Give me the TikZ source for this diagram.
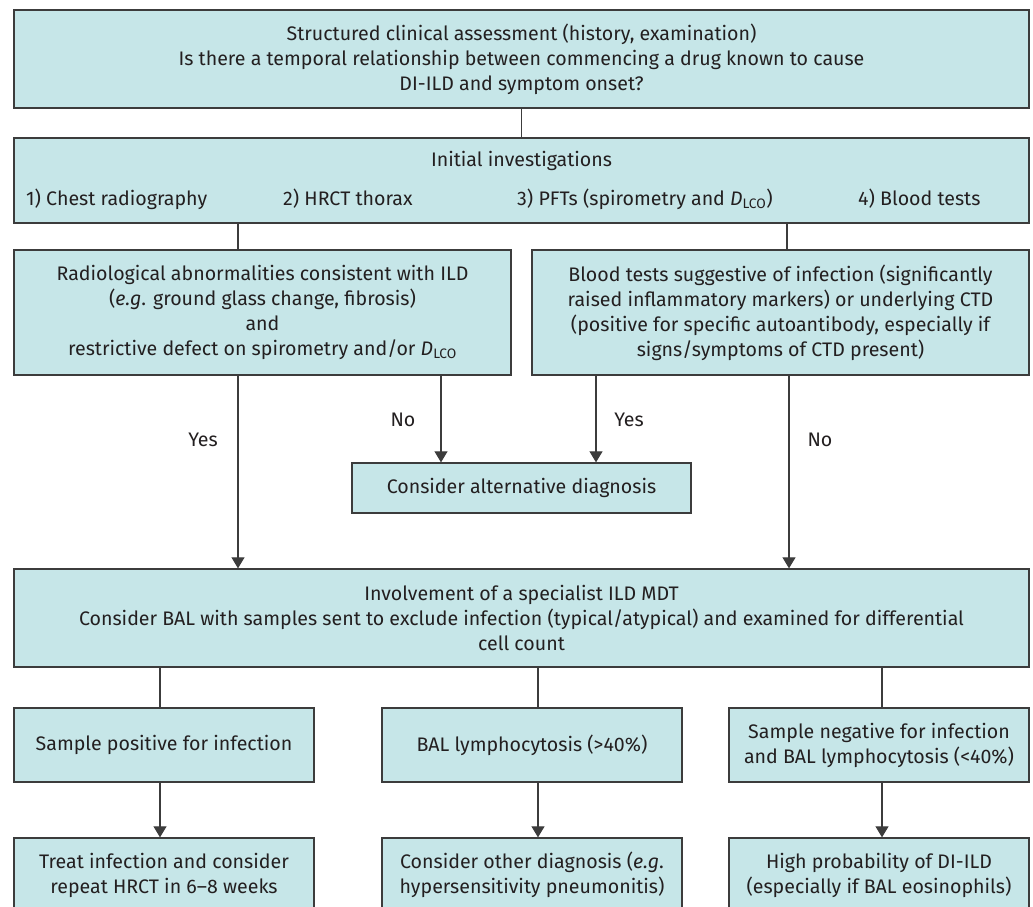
\documentclass[tikz,border=0pt]{standalone}
\usepackage{fontspec}
\setmainfont{Fira Sans}
\usepackage{xcolor}
\usetikzlibrary{positioning}
\usetikzlibrary{arrows.meta}
\definecolor{boxfill}{HTML}{C6E6E8}
\definecolor{boxline}{HTML}{3C3C3C}
\definecolor{ink}{HTML}{231F20}

\begin{document}
\begin{tikzpicture}[x=1pt, y=-1pt, font=\fontsize{19.6}{25}\selectfont, text=ink,
		box/.style={draw=boxline, fill=boxfill, line width=1.3pt, align=center, inner sep=0pt},
		link/.style={draw=boxline, line width=1.1pt},
		arr/.style={link, -{Triangle[length=11pt, width=13pt]}}]
			\useasboundingbox (0,0) rectangle (1033,907);
			% first two rows
			\node[box, minimum width=1015pt, minimum height=98pt] (assess) at (521.5, 59) {Structured clinical assessment (history, examination)\\Is there a temporal relationship between commencing a drug known to cause\\DI-ILD and symptom onset?};
			\node[box, minimum width=1015pt, minimum height=85pt] (initial) at (521.5, 180.5) {};
			\node[anchor=base, inner sep=0pt] (inittitle) at (521.5, 166) {Initial investigations};
			\node[anchor=base west, inner sep=0pt] (item1) at (26, 205) {1) Chest radiography};
			\node[anchor=base west, inner sep=0pt] (item2) at (283, 205) {2) HRCT thorax};
			\node[anchor=base west, inner sep=0pt] (item3) at (517, 205) {3) PFTs (spirometry and \textit{D}\textsubscript{LCO})};
			\node[anchor=base west, inner sep=0pt] (item4) at (858, 205) {4) Blood tests};
			\draw[link] (assess) -- (initial);
			% findings
			\node[box, minimum width=497pt, minimum height=125pt] (rad) at (262.5, 312.5) {Radiological abnormalities consistent with ILD\\(\textit{e.g}. ground glass change, fibrosis)\\and\\restrictive defect on spirometry and/or \textit{D}\textsubscript{LCO}};
			\node[box, minimum width=497pt, minimum height=125pt] (blood) at (780.5, 312.5) {Blood tests suggestive of infection (significantly\\raised inflammatory markers) or underlying CTD\\(positive for specific autoantibody, especially if\\signs/symptoms of CTD present)};
			\draw[link] (initial.south -| 238,0) -- (rad.north -| 238,0);
			\draw[link] (initial.south -| 787,0) -- (blood.north -| 787,0);
			\node[box, minimum width=339pt, minimum height=50pt] (alt) at (521.5, 488) {Consider alternative diagnosis};
			\draw[arr] (rad.south -| 441,0) -- (alt.north -| 441,0);
			\draw[arr] (blood.south -| 596,0) -- (alt.north -| 596,0);
			\node (no1) at (403, 420) {No};
			\node (yes1) at (629, 420) {Yes};
			% MDT
			\node[box, minimum width=1015pt, minimum height=98pt] (mdt) at (521.5, 618) {Involvement of a specialist ILD MDT\\Consider BAL with samples sent to exclude infection (typical/atypical) and examined for differential\\cell count};
			\draw[arr] (rad.south -| 238,0) -- (mdt.north -| 238,0);
			\draw[arr] (blood.south -| 789,0) -- (mdt.north -| 789,0);
			\node (yes2) at (203, 440) {Yes};
			\node (no2) at (820, 440) {No};
			% BAL results
			\node[box, minimum width=300pt, minimum height=74pt] (pos) at (164, 745) {Sample positive for infection};
			\node[box, minimum width=300pt, minimum height=74pt] (lymph) at (532, 745) {BAL lymphocytosis (>40\%)};
			\node[box, minimum width=300pt, minimum height=74pt] (neg) at (879, 745) {Sample negative for infection\\and BAL lymphocytosis (<40\%)};
			\draw[link] (mdt.south -| 160,0) -- (pos.north -| 160,0);
			\draw[link] (mdt.south -| 538,0) -- (lymph.north -| 538,0);
			\draw[link] (mdt.south -| 882,0) -- (neg.north -| 882,0);
			% outcomes
			\node[box, minimum width=300pt, minimum height=74pt] (treat) at (164, 875) {Treat infection and consider\\repeat HRCT in 6--8 weeks};
			\node[box, minimum width=300pt, minimum height=74pt] (other) at (532, 875) {Consider other diagnosis (\textit{e.g}.\\hypersensitivity pneumonitis)};
			\node[box, minimum width=300pt, minimum height=74pt] (dild) at (879, 875) {High probability of DI-ILD\\(especially if BAL eosinophils)};
			\draw[arr] (pos.south -| 160,0) -- (treat.north -| 160,0);
			\draw[arr] (lymph.south -| 538,0) -- (other.north -| 538,0);
			\draw[arr] (neg.south -| 882,0) -- (dild.north -| 882,0);
\end{tikzpicture}
\end{document}
